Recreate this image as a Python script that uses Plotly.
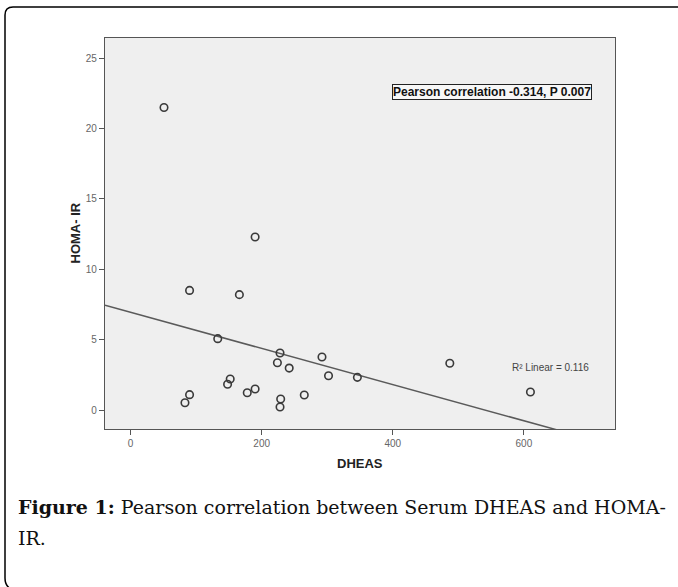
import numpy as np
import plotly.graph_objects as go

# ---- data ----
dheas = [51, 90, 166, 190, 133, 152, 148, 90, 83, 178, 190,
         228, 224, 242, 292, 302, 346, 229, 228, 265, 487, 610]
homa_ir = [21.5, 8.5, 8.2, 12.3, 5.07, 2.2, 1.83, 1.09, 0.52, 1.23, 1.49,
           4.05, 3.36, 2.98, 3.77, 2.44, 2.32, 0.78, 0.21, 1.07, 3.32, 1.28]
x_ticks = [0, 200, 400, 600]
y_ticks = [0, 5, 10, 15, 20, 25]
x_range = [-39, 739]
y_range = [-1.35, 26.44]
corr_text = "Pearson correlation -0.314, P 0.007"
r2_text = "R² Linear = 0.116"
caption_1 = "<b>Figure 1:</b> Pearson correlation between Serum DHEAS and HOMA-"
caption_2 = "IR."

# linear fit computed from the data
slope, intercept = np.polyfit(dheas, homa_ir, 1)
fit_x = np.array(x_range, dtype=float)
fit_y = intercept + slope * fit_x

W, H = 678, 587
L, R, T, B = 105, 615, 38, 429


def px(x):
    return (x - L) / (R - L)


def py(y):
    return (B - y) / (B - T)


fig = go.Figure()
fig.add_trace(go.Scatter(x=fit_x, y=fit_y, mode="lines",
                         line=dict(color="#5a5a5a", width=1.5),
                         hoverinfo="skip", showlegend=False))
fig.add_trace(go.Scatter(x=dheas, y=homa_ir, mode="markers",
                         marker=dict(symbol="circle-open", size=7.5,
                                     color="#3a3a3a", line=dict(width=1.6)),
                         showlegend=False))

axis_common = dict(showgrid=False, zeroline=False, ticks="outside", ticklen=5,
                   tickwidth=1, tickcolor="#555", showline=True, linecolor="#555",
                   linewidth=1.2, mirror=True,
                   tickfont=dict(family="Arial, Liberation Sans, sans-serif",
                                 size=10, color="#666"))
fig.update_xaxes(range=x_range, tickvals=x_ticks, **axis_common)
fig.update_yaxes(range=y_range, tickvals=y_ticks, **axis_common)

border = (f"M {px(679)},{py(7)} L {px(13)},{py(7)} Q {px(5)},{py(7)} {px(5)},{py(15)} "
          f"L {px(5)},{py(578)} Q {px(5)},{py(586)} {px(11)},{py(589)}")
fig.add_shape(type="path", path=border, xref="paper", yref="paper",
              line=dict(color="black", width=1.5), layer="above")

font_sans = "Arial, Liberation Sans, sans-serif"
annotations = [
    dict(text="<b>HOMA- IR</b>", x=px(75), y=0.5, textangle=-90,
         font=dict(family=font_sans, size=13, color="#222")),
    dict(text="<b>DHEAS</b>", x=0.5, y=py(463),
         font=dict(family=font_sans, size=13, color="#222")),
    dict(text=f"<b>{corr_text}</b>", x=px(492), y=py(92),
         font=dict(family=font_sans, size=12, color="#111"),
         bordercolor="#222", borderwidth=1, borderpad=0, bgcolor="#f7f7f7"),
    dict(text=r2_text, x=px(550), y=py(367),
         font=dict(family=font_sans, size=10, color="#444")),
    dict(text=caption_1, x=px(16), y=py(507), xanchor="left",
         font=dict(family="DejaVu Serif, serif", size=19, color="#111")),
    dict(text=caption_2, x=px(16), y=py(538), xanchor="left",
         font=dict(family="DejaVu Serif, serif", size=19, color="#111")),
]
for a in annotations:
    a.setdefault("xanchor", "center")
    a.update(xref="paper", yref="paper", showarrow=False, yanchor="middle")
    fig.add_annotation(**a)

fig.update_layout(width=W, height=H, margin=dict(l=L, r=W - R, t=T, b=H - B),
                  paper_bgcolor="white", plot_bgcolor="#efefef")

fig.write_html("out.html", config={"displayModeBar": False},
               post_script="document.body.style.margin='0';"
                           "document.body.style.overflow='hidden';")
